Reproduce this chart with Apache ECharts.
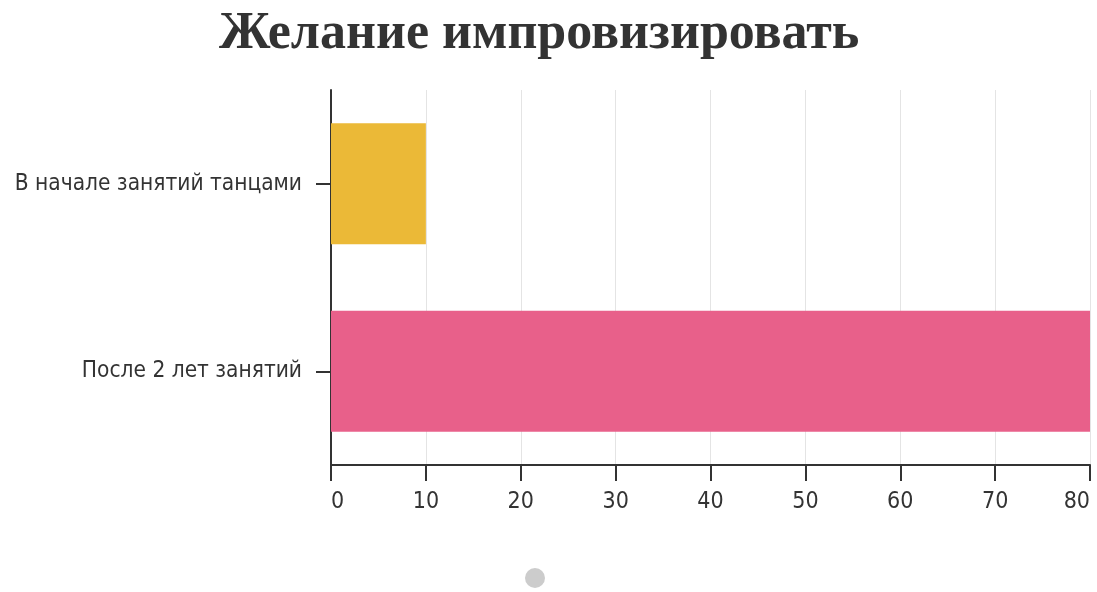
<!DOCTYPE html>
<html>
<head>
<meta charset="utf-8">
<script src="https://cdn.jsdelivr.net/npm/echarts@6/dist/echarts.min.js"></script>
<style>
  html, body { margin: 0; padding: 0; background: #ffffff; }
  #chart { width: 1097px; height: 592px; }
</style>
</head>
<body>
<div id="chart"></div>
<script>
// Survey: desire to improvise, at the start vs after two years of dance classes
const titleText = 'Желание импровизировать';
const categories = ['В начале занятий танцами', 'После 2 лет занятий'];
const values = [10, 80];
const barColors = ['#EBB937', '#E8608A'];
const axisMin = 0;
const axisMax = 80;
const axisStep = 10;

const labelFont = '"DejaVu Sans Condensed", "Liberation Sans Narrow", "Roboto", sans-serif';

const chart = echarts.init(document.getElementById('chart'));
chart.setOption({
  animation: false,
  backgroundColor: '#ffffff',
  title: {
    text: titleText,
    left: 214,
    top: 4,
    textStyle: {
      fontFamily: '"Liberation Serif", "Times New Roman", serif',
      fontWeight: 'bold',
      fontSize: 52,
      color: '#333333'
    }
  },
  grid: { left: 331, right: 7, top: 90, bottom: 127, containLabel: false, outerBoundsMode: 'none' },
  xAxis: {
    type: 'value',
    min: axisMin,
    max: axisMax,
    interval: axisStep,
    axisLine: { show: true, lineStyle: { color: '#333333', width: 2 } },
    axisTick: { show: true, length: 16, lineStyle: { color: '#333333', width: 2 } },
    axisLabel: {
      margin: 26,
      fontFamily: labelFont,
      fontSize: 23,
      color: '#333333',
      alignMinLabel: 'left',
      alignMaxLabel: 'right'
    },
    splitLine: { show: true, lineStyle: { color: '#e4e4e4', width: 1 } }
  },
  yAxis: {
    type: 'category',
    data: categories,
    inverse: true,
    axisLine: { show: true, lineStyle: { color: '#333333', width: 2 } },
    axisTick: { show: true, alignWithLabel: true, length: 15, lineStyle: { color: '#333333', width: 2 } },
    axisLabel: {
      margin: 29,
      fontFamily: labelFont,
      fontSize: 22.5,
      color: '#333333'
    }
  },
  series: [{
    type: 'bar',
    data: values.map((v, i) => ({ value: v, itemStyle: { color: barColors[i] } })),
    barWidth: 121
  }],
  graphic: [{
    type: 'circle',
    shape: { cx: 535, cy: 578, r: 10 },
    style: { fill: '#cccccc' }
  }]
});
</script>
</body>
</html>
